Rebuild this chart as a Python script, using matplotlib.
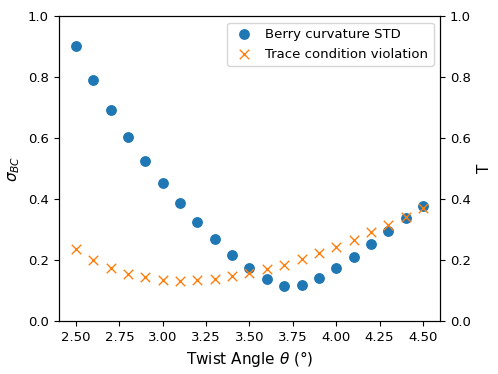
import numpy as np
from matplotlib import pyplot as plt

theta = np.round(np.arange(2.5, 4.51, 0.1), 2)
berry_std = [0.903, 0.790, 0.692, 0.603, 0.525, 0.452, 0.387, 0.326, 0.269, 0.217, 0.174,
             0.138, 0.116, 0.118, 0.140, 0.173, 0.211, 0.251, 0.294, 0.337, 0.378]
trace_viol = [0.235, 0.200, 0.174, 0.155, 0.143, 0.134, 0.131, 0.133, 0.139, 0.148, 0.156,
              0.169, 0.184, 0.202, 0.222, 0.242, 0.266, 0.290, 0.315, 0.342, 0.369]

plt.rcParams["xtick.labelsize"] = 9.5
plt.rcParams["ytick.labelsize"] = 9.5

fig, ax = plt.subplots(figsize=(4.98, 3.74), dpi=100)
fig.subplots_adjust(left=0.118, right=0.884, top=0.957, bottom=0.142)

p1 = ax.scatter(theta, berry_std, s=46, color="tab:blue", label="Berry curvature STD")
ax.set_ylim(0, 1)
ax.set_xlabel(r"Twist Angle $\theta$ (°)", fontsize=11)
ax.set_ylabel(r"$\sigma_{BC}$", fontsize=11)

ax2 = ax.twinx()
p2 = ax2.scatter(theta, trace_viol, s=46, marker="x", color="tab:orange", linewidths=1.0,
                 label="Trace condition violation")
ax2.set_ylim(0, 1)
ax2.set_ylabel("T", fontsize=11)

ax.legend(handles=[p1, p2], loc="upper right", fontsize=9.5, handlelength=1.7)
plt.savefig("out.png")
